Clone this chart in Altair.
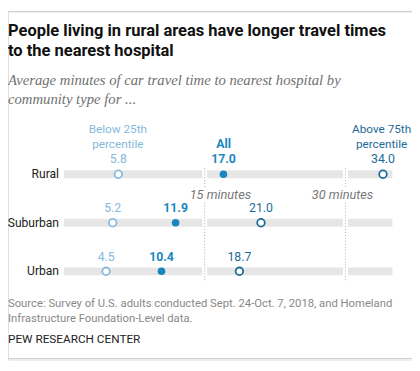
import altair as alt
import pandas as pd

categories = ["Rural", "Suburban", "Urban"]
below25 = [5.8, 5.2, 4.5]
all_vals = [17.0, 11.9, 10.4]
above75 = [34.0, 21.0, 18.7]
ticks = [15, 30]
tick_labels = ["15 minutes", "30 minutes"]
x_domain = [0, 35]

title_lines = ["People living in rural areas have longer travel times", "to the nearest hospital"]
subtitle_lines = ["Average minutes of car travel time to nearest hospital by", "community type for ..."]
source_lines = ["Source: Survey of U.S. adults conducted Sept. 24-Oct. 7, 2018, and Homeland",
                "Infrastructure Foundation-Level data."]
credit = "PEW RESEARCH CENTER"

C_LIGHT = "#86b9dc"
C_ALL = "#1787c0"
C_DARK = "#1c6b98"
SANS = "Roboto"

W, H = 412, 355

groups = ["Below 25th percentile", "All", "Above 75th percentile"]
rows = []
for g, vals in zip(groups, [below25, all_vals, above75]):
    for i, (c, v) in enumerate(zip(categories, vals)):
        rows.append({"cat": c, "row": i, "group": g, "value": v, "label": f"{v:.1f}"})
pts = pd.DataFrame(rows)
bars = pd.DataFrame({"cat": categories, "row": list(range(len(categories))),
                     "start": [x_domain[0]] * 3, "end": [x_domain[1]] * 3})
tk = pd.DataFrame({"t": ticks, "label": tick_labels})

xs = alt.Scale(domain=x_domain, range=[57, 392])
ys = alt.Scale(domain=[0, len(categories) - 1], range=[166, 265])
X = lambda f: alt.X(f, type="quantitative", scale=xs, axis=None)
Y = alt.Y("row:Q", scale=ys, axis=None)

base = alt.Chart(pts)

bg = alt.Chart(bars).mark_rule(strokeWidth=8, color="#e6e6e6").encode(
    x=X("start"), x2="end", y=Y)
gap = alt.Chart(tk).mark_rule(strokeWidth=5, color="white").encode(
    x=X("t"), y=alt.value(157), y2=alt.value(276))
dot1 = alt.Chart(tk).mark_rule(strokeWidth=1, color="#aaaaaa", strokeDash=[1, 2]).encode(
    x=X("t"), y=alt.value(160), y2=alt.value(179))
dot2 = alt.Chart(tk).mark_rule(strokeWidth=1, color="#aaaaaa", strokeDash=[1, 2]).encode(
    x=X("t"), y=alt.value(195), y2=alt.value(275))

def tick_text(i, dx):
    return alt.Chart(tk.iloc[[i]]).mark_text(font=SANS, fontSize=13, fontStyle="italic", color="#777777",
                                             baseline="middle", dx=dx).encode(
        x=X("t"), y=alt.value(187), text="label:N")

def pts_layer(g, filled, color):
    d = base.transform_filter(alt.datum.group == g)
    return d.mark_point(shape="circle", size=60, strokeWidth=1.8, filled=filled,
                        fill=color if filled else "white", color=color, opacity=1).encode(x=X("value"), y=Y)

def lab_layer(g, color, bold):
    d = base.transform_filter(alt.datum.group == g)
    return d.mark_text(font=SANS, fontSize=12.5, fontWeight="bold" if bold else "normal",
                       color=color, dy=-15, baseline="middle").encode(x=X("value"), y=Y, text="label:N")

catlab = alt.Chart(bars).mark_text(font=SANS, fontSize=12.3, color="#222222", align="right",
                                   baseline="middle").encode(x=alt.value(52), y=Y, text="cat:N")

def txt(s, x, y, size, color="#222222", weight="normal", style="normal", align="left", font=SANS):
    return alt.Chart(pd.DataFrame({"a": [0]})).mark_text(
        font=font, fontSize=size, fontWeight=weight, fontStyle=style, color=color,
        align=align, baseline="middle").encode(x=alt.value(x), y=alt.value(y), text=alt.value(s))

texts = [
    txt(title_lines[0], 0, 20, 16.8, "#111111", "bold"),
    txt(title_lines[1], 0, 40, 16.8, "#111111", "bold"),
    txt(subtitle_lines[0], 0, 70, 15, "#707070", style="italic", font="Liberation Serif"),
    txt(subtitle_lines[1], 0, 89, 15, "#707070", style="italic", font="Liberation Serif"),
    txt("Below 25th", 112, 120, 12, C_LIGHT, align="center"),
    txt("percentile", 112, 135, 12, C_LIGHT, align="center"),
    txt("All", 220, 135, 12.5, C_ALL, "bold", align="center"),
    txt("Above 75th", 381, 120, 12, C_DARK, align="center"),
    txt("percentile", 381, 135, 12, C_DARK, align="center"),
    txt(source_lines[0], 0, 298, 11.5, "#888888"),
    txt(source_lines[1], 0, 314, 11.5, "#888888"),
    txt(credit, 0, 334, 12, "#222222"),
]

topline = alt.Chart(pd.DataFrame({"a": [0]})).mark_rule(color="#cccccc", strokeWidth=1).encode(
    x=alt.value(0), x2=alt.value(W), y=alt.value(0))
botline = alt.Chart(pd.DataFrame({"a": [0]})).mark_rule(color="#cccccc", strokeWidth=1).encode(
    x=alt.value(0), x2=alt.value(W), y=alt.value(354))

chart = alt.layer(
    topline, botline, bg, gap, dot1, dot2, tick_text(0, 16), tick_text(1, -3),
    pts_layer("Below 25th percentile", False, C_LIGHT),
    pts_layer("All", True, C_ALL),
    pts_layer("Above 75th percentile", False, C_DARK),
    lab_layer("Below 25th percentile", C_LIGHT, False),
    lab_layer("All", C_ALL, True),
    lab_layer("Above 75th percentile", C_DARK, False),
    catlab, *texts
).properties(width=W, height=H, autosize=alt.AutoSizeParams(type="none"), padding=0
).configure_view(stroke=None).configure(background="white")

chart.save("out.html", embed_options={"renderer": "svg", "actions": False})
